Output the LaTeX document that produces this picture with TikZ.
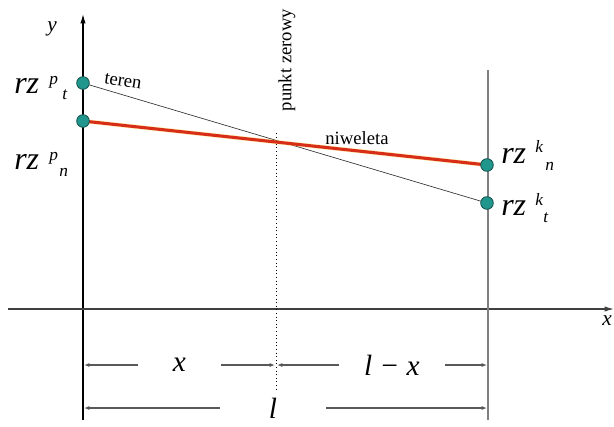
\documentclass[tikz,border=0pt]{standalone}
\usepackage{fontspec}
\setmainfont{Liberation Serif}
\usetikzlibrary{arrows.meta}
\definecolor{tealpt}{RGB}{32,150,140}
\definecolor{tealdark}{RGB}{20,80,75}
\definecolor{nivred}{RGB}{215,45,25}
\tikzset{
  pt/.style={circle,fill=tealpt,draw=tealdark,line width=0.6pt,minimum size=9.5pt,inner sep=0pt},
  big/.style={font=\fontsize{24}{26}\selectfont\itshape,inner sep=0pt,anchor=base west},
  idx/.style={font=\fontsize{13}{15}\selectfont\itshape,inner sep=0pt,anchor=base west},
  lbl/.style={font=\fontsize{14}{16}\selectfont,inner sep=1pt},
  dimline/.style={draw=black!65,line width=0.8pt,{Latex[length=4pt,width=3pt]}-{Latex[length=4pt,width=3pt]}},
  dimlbl/.style={fill=white,font=\fontsize{22}{24}\selectfont\itshape,inner ysep=1pt}
}
\begin{document}
\begin{tikzpicture}[x=0.75pt,y=-0.75pt]
\useasboundingbox (0,0) rectangle (614,426);
% coordinates
\coordinate (Pt) at (83,83);
\coordinate (Pn) at (83,121);
\coordinate (Kn) at (487,165);
\coordinate (Kt) at (487,203);
\coordinate (yb) at (83,420);
\coordinate (yt) at (83,14);
\coordinate (xl) at (8,309);
\coordinate (xr) at (614,309);
\coordinate (rt) at (488,70);
\coordinate (rb) at (488,420);
\coordinate (dt) at (276,133);
\coordinate (db) at (276,392);
\coordinate (d1a) at (84,365);
\coordinate (d1b) at (275,365);
\coordinate (d2a) at (277,365);
\coordinate (d2b) at (487,365);
\coordinate (d3a) at (84,408);
\coordinate (d3b) at (487,408);
% dimension lines
\draw[dimline] (d1a) -- node[dimlbl,minimum width=62pt,pos=0.5] (lx) {x} (d1b);
\draw[dimline] (d2a) -- node[dimlbl,minimum width=80pt,pos=0.547] (llx) {l \char"2212{} x} (d2b);
\draw[dimline] (d3a) -- node[dimlbl,minimum width=79pt,pos=0.469] (ll) {l} (d3b);
% axes
\draw[line width=0.9pt,-{Latex[length=7pt,width=4pt]}] (yb) -- (yt);
\draw[line width=0.9pt,black!75,-{Latex[length=7pt,width=4pt]}] (xl) -- (xr);
\draw[line width=0.9pt,black!50] (rt) -- (rb);
\draw[line width=0.7pt,dotted] (dt) -- (db);
% lines
\draw[line width=0.5pt,black!80] (Pt) -- (Kt);
\draw[line width=3.2pt,yellow!60!orange,opacity=0.35] (Pn) -- (Kn);
\draw[line width=2.3pt,nivred] (Pn) -- (Kn);
% points
\node[pt] (pPt) at (Pt) {};
\node[pt] (pPn) at (Pn) {};
\node[pt] (pKn) at (Kn) {};
\node[pt] (pKt) at (Kt) {};
% labels
\node[font=\fontsize{16}{18}\selectfont\itshape] (ylab) at (52,29) {y};
\node[font=\fontsize{16}{18}\selectfont\itshape] (xlab) at (607,321) {x};
\node[lbl,rotate=-9] (teren) at (123,81) {teren};
\node[lbl] (niw) at (357,138) {niweleta};
\node[lbl,rotate=90] (pz) at (287,60) {punkt zerowy};
% rz labels
\node[big] (a1) at (14,93) {rz};
\node[idx] (a2) at (49,84) {p};
\node[idx] (a3) at (62,99) {t};
\node[big] (b1) at (14,169) {rz};
\node[idx] (b2) at (49,160) {p};
\node[idx] (b3) at (59,176) {n};
\node[big] (c1) at (501,163) {rz};
\node[idx] (c2) at (535,152) {k};
\node[idx] (c3) at (545,170) {n};
\node[big] (e1) at (501,215) {rz};
\node[idx] (e2) at (535,205) {k};
\node[idx] (e3) at (543,222) {t};
\end{tikzpicture}
\end{document}
